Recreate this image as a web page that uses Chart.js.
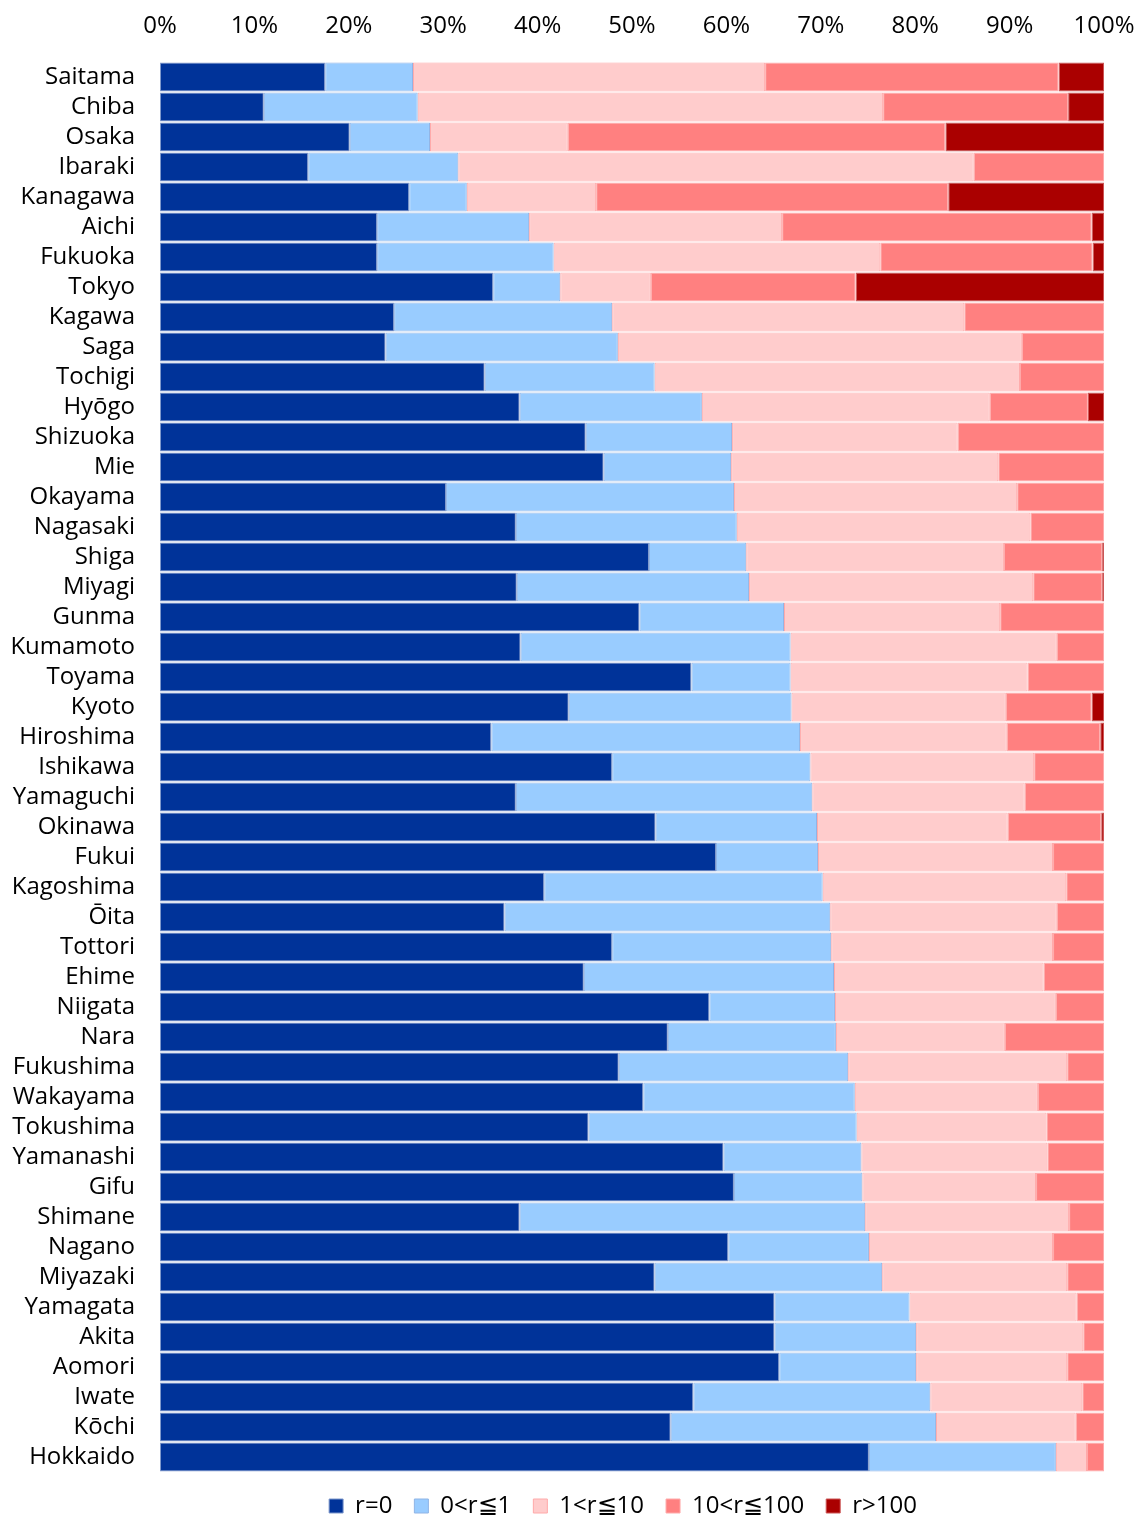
<!DOCTYPE html>
<html>
<head>
<meta charset="utf-8">
<script src="https://cdn.jsdelivr.net/npm/chart.js@4"></script>
<style>
  html, body { margin: 0; padding: 0; background: #fff; }
  #wrap { width: 1143px; height: 1516px; }
</style>
</head>
<body>
<div id="wrap"><canvas id="barChart"></canvas></div>
<script>
var prefectures = ["Saitama", "Chiba", "Osaka", "Ibaraki", "Kanagawa", "Aichi", "Fukuoka", "Tokyo",
  "Kagawa", "Saga", "Tochigi", "Hyōgo", "Shizuoka", "Mie", "Okayama", "Nagasaki", "Shiga", "Miyagi",
  "Gunma", "Kumamoto", "Toyama", "Kyoto", "Hiroshima", "Ishikawa", "Yamaguchi", "Okinawa", "Fukui",
  "Kagoshima", "Ōita", "Tottori", "Ehime", "Niigata", "Nara", "Fukushima", "Wakayama", "Tokushima",
  "Yamanashi", "Gifu", "Shimane", "Nagano", "Miyazaki", "Yamagata", "Akita", "Aomori", "Iwate",
  "Kōchi", "Hokkaido"];

// share of municipalities (%) in each band
var rZero = [17.5, 11.0, 20.1, 15.7, 26.4, 23.0, 23.0, 35.3, 24.8, 23.9, 34.4, 38.1, 45.1, 47.0, 30.3, 37.7,
  51.8, 37.8, 50.8, 38.2, 56.3, 43.3, 35.1, 47.9, 37.7, 52.5, 58.9, 40.7, 36.5, 47.9, 44.9, 58.2, 53.8,
  48.6, 51.2, 45.4, 59.7, 60.8, 38.1, 60.2, 52.4, 65.1, 65.1, 65.6, 56.5, 54.1, 75.1];
var rUpTo1 = [9.3, 16.3, 8.5, 15.9, 6.1, 16.1, 18.7, 7.1, 23.1, 24.6, 18.0, 19.3, 15.5, 13.5, 30.5, 23.4,
  10.3, 24.6, 15.3, 28.6, 10.5, 23.6, 32.7, 21.0, 31.4, 17.1, 10.8, 29.5, 34.5, 23.2, 26.5, 13.3, 17.8,
  24.3, 22.4, 28.4, 14.6, 13.6, 36.6, 14.9, 24.1, 14.3, 15.0, 14.5, 25.1, 28.1, 19.8];
var rUpTo10 = [37.3, 49.3, 14.6, 54.6, 13.7, 26.8, 34.6, 9.6, 37.3, 42.8, 38.7, 30.5, 23.9, 28.3, 30.0, 31.1,
  27.3, 30.1, 22.9, 28.2, 25.1, 22.7, 21.9, 23.7, 22.5, 20.2, 24.9, 25.8, 24.0, 23.5, 22.2, 23.4, 17.9,
  23.2, 19.4, 20.1, 19.7, 18.4, 21.6, 19.5, 19.6, 17.7, 17.7, 16.0, 16.1, 14.8, 3.3];
var rUpTo100 = [31.1, 19.6, 40.0, 13.8, 37.3, 32.8, 22.5, 21.7, 14.8, 8.7, 8.9, 10.4, 15.5, 11.2, 9.2, 7.8,
  10.4, 7.3, 11.0, 5.0, 8.1, 9.1, 9.9, 7.4, 8.4, 9.9, 5.4, 4.0, 5.0, 5.4, 6.4, 5.1, 10.5,
  3.9, 7.0, 6.1, 6.0, 7.2, 3.7, 5.4, 3.9, 2.9, 2.2, 3.9, 2.3, 3.0, 1.8];
var rOver100 = [4.8, 3.8, 16.8, 0, 16.5, 1.3, 1.2, 26.3, 0, 0, 0, 1.7, 0, 0, 0, 0,
  0.2, 0.2, 0, 0, 0, 1.3, 0.4, 0, 0, 0.3, 0, 0, 0, 0, 0, 0, 0,
  0, 0, 0, 0, 0, 0, 0, 0, 0, 0, 0, 0, 0, 0];

var bandLabels = ["r=0", "0<r≦1", "1<r≦10", "10<r≦100", "r>100"];
var fills = ["#003399", "#99CCFF", "#FFCCCC", "#FF8080", "#AA0000"];
var edges = ["#7F99CC", "#8FB4E6", "#FFAAAA", "#FFAAAA", "#CC5555"];
var tickLabels = ["0%", "10%", "20%", "30%", "40%", "50%", "60%", "70%", "80%", "90%", "100%"];

var font = "'Open Sans', 'Noto Sans', sans-serif";
var series = [rZero, rUpTo1, rUpTo10, rUpTo100, rOver100];

// legend sits centred under the plot area, not the whole canvas
var legendShift = {
  id: 'legendShift',
  afterLayout: function (chart) {
    if (chart.legend) chart.legend.left += 142;
  }
};

var ctx = document.getElementById("barChart").getContext('2d');
var myChart = new Chart(ctx, {
  type: 'bar',
  plugins: [legendShift],
  data: {
    labels: prefectures,
    datasets: series.map(function (vals, k) {
      return {
        label: bandLabels[k],
        data: vals,
        backgroundColor: fills[k],
        borderColor: edges[k],
        borderWidth: 1,
        borderSkipped: false,
        categoryPercentage: 1,
        barPercentage: 0.97
      };
    })
  },
  options: {
    indexAxis: 'y',
    responsive: true,
    maintainAspectRatio: false,
    animation: false,
    layout: { padding: { left: 0, right: 39, top: 0, bottom: -12 } },
    scales: {
      x: {
        position: 'top',
        stacked: true,
        min: 0,
        max: 100,
        grid: { display: false },
        border: { display: false },
        afterFit: function (s) {
          s.height = 62;
          s.paddingLeft = 0;
          s.paddingRight = 0;
        },
        afterBuildTicks: function (s) {
          s.ticks = tickLabels.map(function (t, i) { return { value: i * 10 }; });
        },
        ticks: {
          color: '#000',
          padding: 13,
          font: { family: font, size: 24 },
          maxRotation: 0,
          callback: function (v, i) { return tickLabels[i]; }
        }
      },
      y: {
        stacked: true,
        grid: { display: false },
        border: { display: false },
        afterFit: function (s) { s.width = 160; },
        ticks: {
          color: '#000',
          padding: 17,
          autoSkip: false,
          font: { family: font, size: 24 }
        }
      }
    },
    plugins: {
      tooltip: { enabled: false },
      legend: {
        position: 'bottom',
        labels: {
          color: '#000',
          boxWidth: 14,
          boxHeight: 14,
          padding: 22,
          font: { family: font, size: 24 }
        }
      }
    }
  }
});
</script>
</body>
</html>
